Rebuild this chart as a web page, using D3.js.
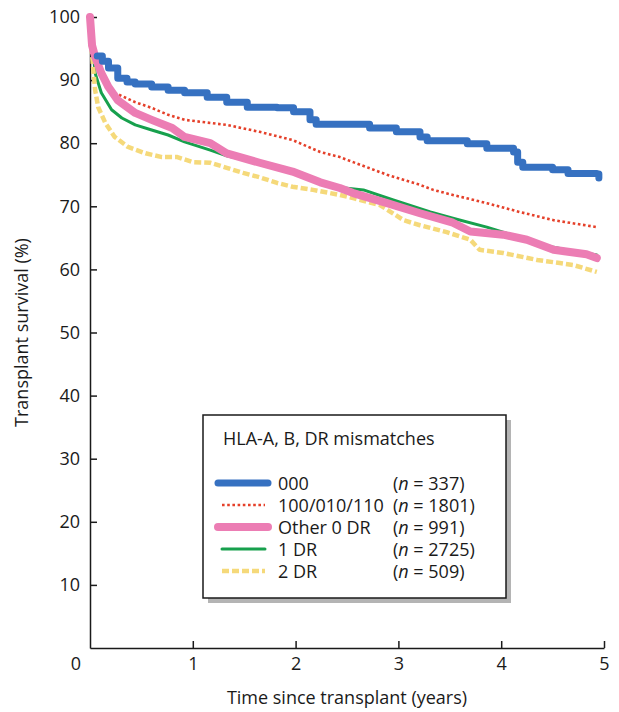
<!DOCTYPE html>
<meta charset="utf-8">
<style>
body {
  margin: 0;
  background: #fff;
}
svg text {
  font-family: "Open Sans", "Noto Sans", sans-serif;
  fill: #1a1a1a;
}
.axis path, .axis line {
  stroke: #1a1a1a;
  stroke-width: 1.5px;
}
.curve {
  fill: none;
}
</style>
<body>
<script src="https://cdn.jsdelivr.net/npm/d3@7"></script>
<script>
var width = 619,
    height = 712;

// survival (%) against time since transplant (years)
var s000 = [[0.07,93.8],[0.12,93.0],[0.18,91.9],[0.27,90.3],[0.36,89.7],[0.44,89.4],[0.6,88.9],[0.76,88.4],[0.92,88.0],[1.05,88.0],[1.14,87.3],[1.33,86.5],[1.53,85.7],[1.82,85.6],[1.98,85.0],[2.14,83.7],[2.2,83.0],[2.66,83.0],[2.72,82.4],[2.98,81.8],[3.21,81.0],[3.28,80.4],[3.67,79.9],[3.86,79.2],[4.12,78.6],[4.16,77.0],[4.21,76.2],[4.44,76.2],[4.5,75.8],[4.65,75.2],[4.93,75.1],[4.95,74.5]];
var s100 = [[0.2,88.6],[0.24,88.0],[0.44,86.5],[0.6,85.6],[0.76,84.5],[0.92,83.7],[1.33,82.9],[1.65,81.8],[1.97,80.5],[2.24,78.6],[2.43,77.8],[2.56,77.0],[2.89,75.0],[3.21,73.4],[3.34,72.6],[3.53,71.8],[3.86,70.5],[4.18,69.1],[4.51,67.8],[4.93,66.7]];
var sOther = [[0,100],[0.02,95.5],[0.05,93.7],[0.11,91.1],[0.18,88.9],[0.27,86.8],[0.44,84.8],[0.6,83.7],[0.8,82.4],[0.92,81.0],[1.17,80.0],[1.33,78.4],[1.65,76.9],[1.97,75.5],[2.24,73.8],[2.43,72.9],[2.56,72.1],[2.89,70.5],[3.21,68.9],[3.53,67.4],[3.7,66.0],[4.02,65.5],[4.25,64.7],[4.51,63.1],[4.83,62.4],[4.93,61.8]];
var s1DR = [[0,100],[0.05,91.1],[0.11,88.0],[0.21,85.3],[0.31,84.0],[0.44,82.9],[0.6,82.1],[0.76,81.3],[0.92,80.2],[1.17,78.9],[1.33,78.0],[1.65,76.8],[1.97,75.3],[2.24,73.6],[2.43,73.0],[2.66,72.6],[2.95,71.0],[3.31,69.1],[3.53,68.1],[3.86,66.7],[4.18,65.1],[4.51,63.5],[4.7,62.9],[4.93,62.3]];
var s2DR = [[0,100],[0.02,94],[0.05,88.4],[0.08,85.7],[0.15,83.2],[0.24,81.0],[0.37,79.4],[0.54,78.4],[0.7,77.8],[0.85,77.8],[1.0,77.0],[1.17,76.9],[1.33,76.1],[1.49,75.3],[1.65,74.6],[1.82,73.7],[1.97,73.1],[2.17,72.6],[2.43,71.8],[2.56,71.3],[2.82,70.2],[3.05,67.8],[3.21,67.0],[3.47,65.9],[3.7,64.7],[3.79,63.1],[4.02,62.6],[4.35,61.5],[4.57,61.0],[4.7,60.7],[4.93,59.6]];

var groups = ["000", "100/010/110", "Other 0 DR", "1 DR", "2 DR"];
var counts = [337, 1801, 991, 2725, 509];
var xTicks = [1, 2, 3, 4, 5];
var yTicks = [10, 20, 30, 40, 50, 60, 70, 80, 90, 100];

var series = [
  {name: groups[0], n: counts[0], values: s000, color: "#3671c1", w: 7, dash: null, step: true},
  {name: groups[1], n: counts[1], values: s100, color: "#e5402a", w: 2.6, dash: "2.6,2.6", step: false},
  {name: groups[2], n: counts[2], values: sOther, color: "#ec7db4", w: 8, dash: null, step: false},
  {name: groups[3], n: counts[3], values: s1DR, color: "#17a04d", w: 3, dash: null, step: false},
  {name: groups[4], n: counts[4], values: s2DR, color: "#f5d97a", w: 4.5, dash: "7,3", step: false}
];
var drawOrder = [1, 3, 4, 2, 0];

var x = d3.scaleLinear().domain([0, 5]).range([90, 604]);
var y = d3.scaleLinear().domain([0, 100]).range([648, 17]);

var svg = d3.select("body").append("svg")
    .attr("width", width)
    .attr("height", height);

// axes, ticks pointing inwards
svg.append("g")
    .attr("class", "axis")
    .attr("transform", "translate(0," + y(0) + ")")
    .call(d3.axisBottom(x).tickValues(xTicks).tickFormat(d3.format("d"))
      .tickSize(-7).tickSizeOuter(0).tickPadding(9));
svg.append("g")
    .attr("class", "axis")
    .attr("transform", "translate(" + x(0) + ",0)")
    .call(d3.axisLeft(y).tickValues(yTicks).tickSize(-7).tickSizeOuter(0).tickPadding(10));
svg.selectAll(".axis text")
    .style("font-size", "18px");
svg.selectAll(".axis .domain")
    .attr("stroke-width", 1.8);

svg.append("text")
    .attr("x", 76)
    .attr("y", 670)
    .attr("text-anchor", "middle")
    .style("font-size", "18px")
    .text("0");

svg.append("text")
    .attr("x", (x(0) + x(5)) / 2)
    .attr("y", 704)
    .attr("text-anchor", "middle")
    .style("font-size", "18px")
    .text("Time since transplant (years)");

svg.append("text")
    .attr("transform", "translate(28," + (y(0) + y(100)) / 2 + ") rotate(-90)")
    .attr("text-anchor", "middle")
    .style("font-size", "18px")
    .text("Transplant survival (%)");

// curves
var line = d3.line()
    .x(function(d) { return x(d[0]); })
    .y(function(d) { return y(d[1]); });

drawOrder.forEach(function(i) {
  var s = series[i];
  svg.append("path")
      .datum(s.values)
      .attr("class", "curve")
      .attr("stroke", s.color)
      .attr("stroke-width", s.w)
      .attr("stroke-linecap", s.dash ? "butt" : "round")
      .attr("stroke-linejoin", "round")
      .attr("stroke-dasharray", s.dash)
      .attr("d", line.curve(s.step ? d3.curveStepAfter : d3.curveLinear));
});

// legend
var lx = 203, ly = 415, lw = 303, lh = 183;
svg.append("rect")
    .attr("x", lx + 5)
    .attr("y", ly + 5)
    .attr("width", lw)
    .attr("height", lh)
    .attr("fill", "#b4b4b4");
svg.append("rect")
    .attr("x", lx)
    .attr("y", ly)
    .attr("width", lw)
    .attr("height", lh)
    .attr("fill", "#fff")
    .attr("stroke", "#1a1a1a")
    .attr("stroke-width", 1.5);

svg.append("text")
    .attr("x", lx + 20)
    .attr("y", ly + 30)
    .style("font-size", "18px")
    .text("HLA-A, B, DR mismatches");

var rows = svg.selectAll(".legend-row")
    .data(series)
  .enter().append("g")
    .attr("class", "legend-row")
    .attr("transform", function(d, i) { return "translate(0," + (ly + 68 + i * 22) + ")"; });

rows.append("line")
    .attr("x1", function(d) { return d.w > 5 ? 218 : 222; })
    .attr("x2", function(d) { return d.w > 5 ? 268 : 265; })
    .attr("stroke", function(d) { return d.color; })
    .attr("stroke-width", function(d) { return d.w; })
    .attr("stroke-linecap", function(d) { return d.dash ? "butt" : "round"; })
    .attr("stroke-dasharray", function(d) { return d.dash; });

rows.append("text")
    .attr("x", 278)
    .attr("y", 6.5)
    .style("font-size", "18px")
    .text(function(d) { return d.name; });

var nt = rows.append("text")
    .attr("x", 393)
    .attr("y", 6.5)
    .style("font-size", "18px");
nt.append("tspan").text("(");
nt.append("tspan").style("font-style", "italic").text("n");
nt.append("tspan").text(function(d) { return " = " + d.n + ")"; });
</script>
